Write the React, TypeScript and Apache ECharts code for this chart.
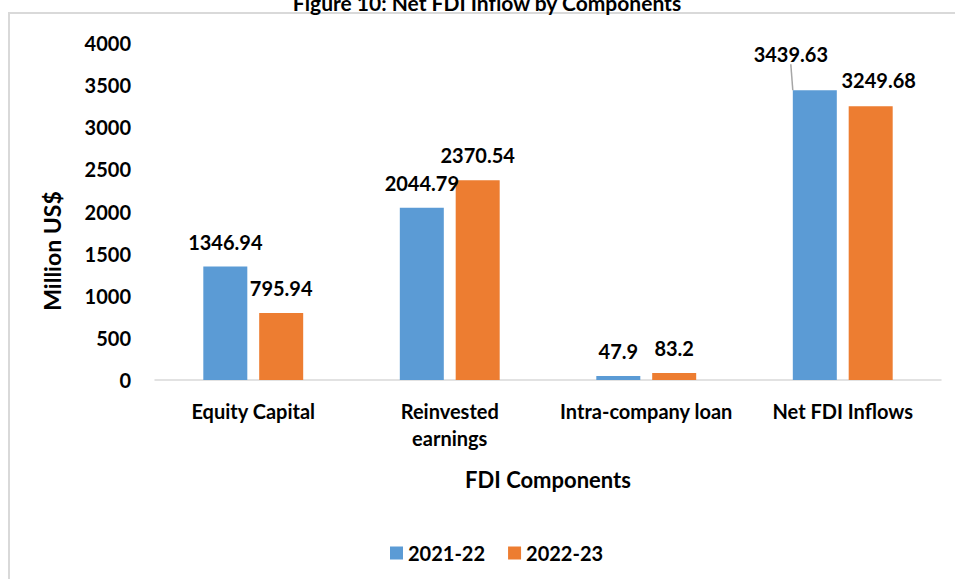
import React, { useEffect, useRef } from "react";
import * as echarts from "echarts";

const TITLE = "Figure 10: Net FDI Inflow by Components";
const CATEGORIES = ["Equity Capital", "Reinvested\nearnings", "Intra-company loan", "Net FDI Inflows"];
const SERIES_NAMES = ["2021-22", "2022-23"];
const VALUES_2021_22 = [1346.94, 2044.79, 47.9, 3439.63];
const VALUES_2022_23 = [795.94, 2370.54, 83.2, 3249.68];
const Y_TICKS = { min: 0, max: 4000, interval: 500 };

const COLORS = ["#5B9BD5", "#ED7D31"];
const FONT = "Lato";
// label nudges (dx, dy) per series / category, mirroring the hand-placed labels
const LABEL_SHIFTS = [
  [[0, 0], [0, 0], [0, 0], [-24, -11]],
  [[0, 0], [0, 0], [0, 0], [8, -1]],
];
const LEADER_LINE = [[false, false, false, true], [false, false, false, false]];

export default function App() {
  const ref = useRef<HTMLDivElement>(null);

  useEffect(() => {
    if (!ref.current) return;
    const chart = echarts.init(ref.current, null, { renderer: "svg" });
    const seriesValues = [VALUES_2021_22, VALUES_2022_23];

    const option: any = {
      animation: false,
      backgroundColor: "#ffffff",
      textStyle: { fontFamily: FONT },
      graphic: [
        {
          type: "rect",
          z: -10,
          silent: true,
          shape: { x: 9, y: 13, width: 1000, height: 700 },
          style: { fill: "none", stroke: "#d9d9d9", lineWidth: 2 },
        },
        {
          type: "text",
          x: 487,
          y: 2,
          style: {
            text: TITLE,
            fontFamily: FONT,
            fontWeight: "bold",
            fontSize: 21,
            fill: "#000",
            align: "center",
            verticalAlign: "middle",
          },
        },
        {
          type: "text",
          x: 52,
          y: 251,
          rotation: Math.PI / 2,
          style: {
            text: "Million US$",
            fontFamily: FONT,
            fontWeight: "bold",
            fontSize: 23,
            fill: "#000",
            align: "center",
            verticalAlign: "middle",
          },
        },
      ],
      grid: { left: 155, right: 14, top: 43, bottom: 199, containLabel: false },
      legend: {
        data: SERIES_NAMES,
        left: 385,
        top: 538,
        icon: "rect",
        itemWidth: 13,
        itemHeight: 13,
        itemGap: 23,
        textStyle: { fontFamily: FONT, fontWeight: "bold", fontSize: 20, color: "#000" },
      },
      xAxis: {
        type: "category",
        data: CATEGORIES,
        name: "FDI Components",
        nameLocation: "middle",
        nameGap: 88,
        nameTextStyle: { fontFamily: FONT, fontWeight: "bold", fontSize: 22, color: "#000", verticalAlign: "top" },
        axisLine: { lineStyle: { color: "#d9d9d9", width: 1.5 } },
        axisTick: { show: false },
        axisLabel: {
          fontFamily: FONT,
          fontWeight: "bold",
          fontSize: 20,
          color: "#000",
          margin: 17,
          lineHeight: 27,
          interval: 0,
        },
      },
      yAxis: {
        type: "value",
        min: Y_TICKS.min,
        max: Y_TICKS.max,
        interval: Y_TICKS.interval,
        splitLine: { show: false },
        axisLine: { show: false },
        axisTick: { show: false },
        axisLabel: {
          fontFamily: FONT,
          fontWeight: "bold",
          fontSize: 20,
          color: "#000",
          margin: 24,
          formatter: (v: number) => String(v),
        },
      },
      series: SERIES_NAMES.map((name, si) => ({
        name,
        type: "bar",
        barWidth: 44,
        barGap: "27%",
        itemStyle: { color: COLORS[si] },
        label: {
          show: true,
          position: "top",
          distance: 15,
          fontFamily: FONT,
          fontWeight: "bold",
          fontSize: 20,
          color: "#000",
        },
        labelLayout: (params: any) => {
          const s = LABEL_SHIFTS[params.seriesIndex][params.dataIndex];
          return { dx: s[0], dy: s[1] };
        },
        data: seriesValues[si].map((v, di) => ({
          value: v,
          labelLine: {
            show: LEADER_LINE[si][di],
            lineStyle: { color: "#a6a6a6", width: 1.5 },
          },
        })),
      })),
    };

    chart.setOption(option);
    return () => chart.dispose();
  }, []);

  return (
    <div
      ref={ref}
      style={{ position: "fixed", left: 0, top: 0, width: 955, height: 579, background: "#fff" }}
    />
  );
}
